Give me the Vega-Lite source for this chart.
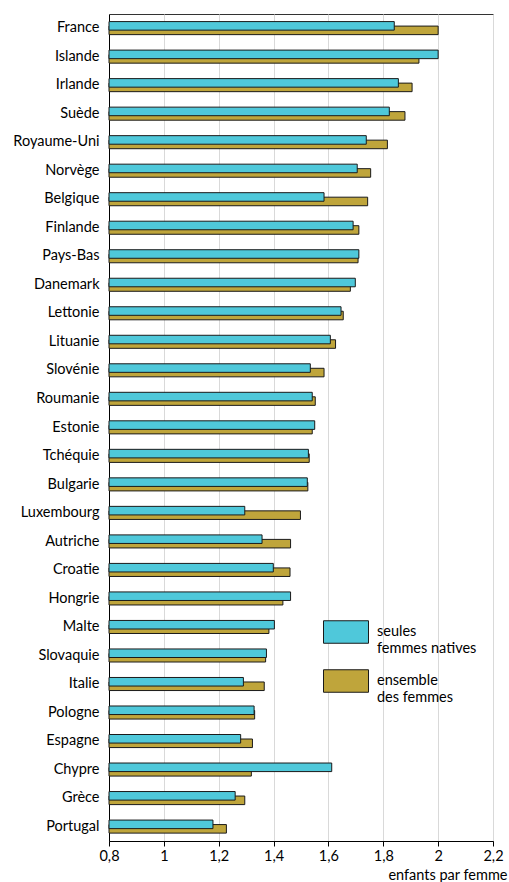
{
  "$schema": "https://vega.github.io/schema/vega-lite/v6.json",
  "width": 384,
  "height": 827,
  "autosize": "none",
  "padding": {"left": 109, "top": 14, "right": 16, "bottom": 41},
  "data": {
    "values": [
      {"pays": "France", "serie": "seules femmes natives", "valeur": 1.84},
      {"pays": "France", "serie": "ensemble des femmes", "valeur": 2.0},
      {"pays": "Islande", "serie": "seules femmes natives", "valeur": 2.0},
      {"pays": "Islande", "serie": "ensemble des femmes", "valeur": 1.93},
      {"pays": "Irlande", "serie": "seules femmes natives", "valeur": 1.855},
      {"pays": "Irlande", "serie": "ensemble des femmes", "valeur": 1.905},
      {"pays": "Suède", "serie": "seules femmes natives", "valeur": 1.822},
      {"pays": "Suède", "serie": "ensemble des femmes", "valeur": 1.879},
      {"pays": "Royaume-Uni", "serie": "seules femmes natives", "valeur": 1.738},
      {"pays": "Royaume-Uni", "serie": "ensemble des femmes", "valeur": 1.815},
      {"pays": "Norvège", "serie": "seules femmes natives", "valeur": 1.705},
      {"pays": "Norvège", "serie": "ensemble des femmes", "valeur": 1.754},
      {"pays": "Belgique", "serie": "seules femmes natives", "valeur": 1.584},
      {"pays": "Belgique", "serie": "ensemble des femmes", "valeur": 1.743},
      {"pays": "Finlande", "serie": "seules femmes natives", "valeur": 1.69},
      {"pays": "Finlande", "serie": "ensemble des femmes", "valeur": 1.711},
      {"pays": "Pays-Bas", "serie": "seules femmes natives", "valeur": 1.711},
      {"pays": "Pays-Bas", "serie": "ensemble des femmes", "valeur": 1.708},
      {"pays": "Danemark", "serie": "seules femmes natives", "valeur": 1.698},
      {"pays": "Danemark", "serie": "ensemble des femmes", "valeur": 1.68},
      {"pays": "Lettonie", "serie": "seules femmes natives", "valeur": 1.646},
      {"pays": "Lettonie", "serie": "ensemble des femmes", "valeur": 1.654},
      {"pays": "Lituanie", "serie": "seules femmes natives", "valeur": 1.607},
      {"pays": "Lituanie", "serie": "ensemble des femmes", "valeur": 1.626},
      {"pays": "Slovénie", "serie": "seules femmes natives", "valeur": 1.534},
      {"pays": "Slovénie", "serie": "ensemble des femmes", "valeur": 1.584},
      {"pays": "Roumanie", "serie": "seules femmes natives", "valeur": 1.541},
      {"pays": "Roumanie", "serie": "ensemble des femmes", "valeur": 1.552},
      {"pays": "Estonie", "serie": "seules femmes natives", "valeur": 1.55},
      {"pays": "Estonie", "serie": "ensemble des femmes", "valeur": 1.541},
      {"pays": "Tchéquie", "serie": "seules femmes natives", "valeur": 1.527},
      {"pays": "Tchéquie", "serie": "ensemble des femmes", "valeur": 1.53},
      {"pays": "Bulgarie", "serie": "seules femmes natives", "valeur": 1.523},
      {"pays": "Bulgarie", "serie": "ensemble des femmes", "valeur": 1.525},
      {"pays": "Luxembourg", "serie": "seules femmes natives", "valeur": 1.295},
      {"pays": "Luxembourg", "serie": "ensemble des femmes", "valeur": 1.498},
      {"pays": "Autriche", "serie": "seules femmes natives", "valeur": 1.358},
      {"pays": "Autriche", "serie": "ensemble des femmes", "valeur": 1.462},
      {"pays": "Croatie", "serie": "seules femmes natives", "valeur": 1.399},
      {"pays": "Croatie", "serie": "ensemble des femmes", "valeur": 1.46},
      {"pays": "Hongrie", "serie": "seules femmes natives", "valeur": 1.462},
      {"pays": "Hongrie", "serie": "ensemble des femmes", "valeur": 1.434},
      {"pays": "Malte", "serie": "seules femmes natives", "valeur": 1.403},
      {"pays": "Malte", "serie": "ensemble des femmes", "valeur": 1.383},
      {"pays": "Slovaquie", "serie": "seules femmes natives", "valeur": 1.374},
      {"pays": "Slovaquie", "serie": "ensemble des femmes", "valeur": 1.371},
      {"pays": "Italie", "serie": "seules femmes natives", "valeur": 1.29},
      {"pays": "Italie", "serie": "ensemble des femmes", "valeur": 1.366},
      {"pays": "Pologne", "serie": "seules femmes natives", "valeur": 1.329},
      {"pays": "Pologne", "serie": "ensemble des femmes", "valeur": 1.331},
      {"pays": "Espagne", "serie": "seules femmes natives", "valeur": 1.28},
      {"pays": "Espagne", "serie": "ensemble des femmes", "valeur": 1.323},
      {"pays": "Chypre", "serie": "seules femmes natives", "valeur": 1.612},
      {"pays": "Chypre", "serie": "ensemble des femmes", "valeur": 1.319},
      {"pays": "Grèce", "serie": "seules femmes natives", "valeur": 1.26},
      {"pays": "Grèce", "serie": "ensemble des femmes", "valeur": 1.295},
      {"pays": "Portugal", "serie": "seules femmes natives", "valeur": 1.179},
      {"pays": "Portugal", "serie": "ensemble des femmes", "valeur": 1.228}
    ]
  },
  "encoding": {
    "y": {
      "field": "pays",
      "type": "nominal",
      "sort": null,
      "title": null,
      "scale": {"paddingInner": 0, "paddingOuter": 0},
      "axis": {
        "ticks": false,
        "grid": false,
        "domainColor": "#000000",
        "labelPadding": 10,
        "labelFontSize": 14.5
      }
    },
    "x": {
      "field": "valeur",
      "type": "quantitative",
      "scale": {"domain": [0.8, 2.2], "nice": false, "zero": false},
      "axis": {
        "values": [0.8, 1, 1.2, 1.4, 1.6, 1.8, 2, 2.2],
        "labelExpr": "replace(format(datum.value, '.1~f'), '.', ',')",
        "labelFlush": false,
        "title": "enfants par femme",
        "titleX": 398,
        "titleY": 34,
        "titleAlign": "right",
        "titleBaseline": "middle",
        "titleFontSize": 14.5,
        "titleFontWeight": "normal",
        "gridColor": "#d9d9d9",
        "domainColor": "#000000",
        "tickColor": "#000000",
        "tickSize": 5,
        "labelPadding": 3,
        "labelFontSize": 14.5
      }
    },
    "x2": {"datum": 0.8},
    "color": {
      "field": "serie",
      "type": "nominal",
      "scale": {
        "domain": ["seules femmes natives", "ensemble des femmes"],
        "range": ["#4fc8da", "#bfa53b"]
      },
      "legend": {
        "title": null,
        "orient": "none",
        "legendX": 214,
        "legendY": 595,
        "symbolType": "M-1,-0.5H1V0.5H-1Z",
        "symbolSize": 2025,
        "symbolStrokeColor": "#1a1a1a",
        "symbolStrokeWidth": 1,
        "symbolOpacity": 1,
        "labelFontSize": 14.5,
        "labelOffset": 8,
        "labelLimit": 200,
        "rowPadding": 3,
        "labelExpr": "datum.label == 'seules femmes natives' ? ['seules', 'femmes natives'] : ['ensemble', 'des femmes']"
      }
    }
  },
  "layer": [
    {
      "transform": [{"filter": "datum.serie == 'ensemble des femmes'"}],
      "mark": {
        "type": "bar",
        "height": {"band": 0.3},
        "yOffset": 2.1,
        "stroke": "#1a1a1a",
        "strokeWidth": 1,
        "opacity": 1
      }
    },
    {
      "transform": [{"filter": "datum.serie == 'seules femmes natives'"}],
      "mark": {
        "type": "bar",
        "height": {"band": 0.3},
        "yOffset": -2.4,
        "stroke": "#1a1a1a",
        "strokeWidth": 1,
        "opacity": 1
      }
    }
  ],
  "config": {
    "font": "Lato",
    "view": {"stroke": "#333333"},
    "axis": {"labelColor": "#000000", "titleColor": "#000000"},
    "legend": {"labelColor": "#000000"}
  }
}
